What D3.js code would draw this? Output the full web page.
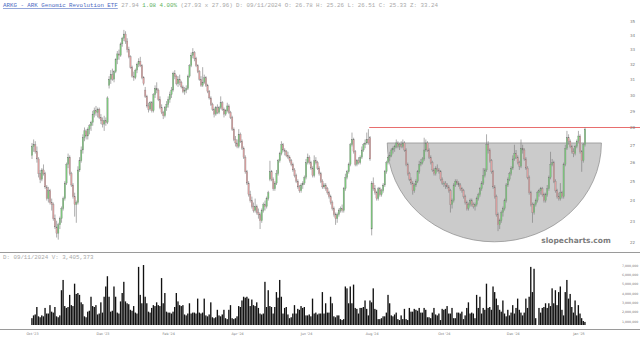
<!DOCTYPE html>
<html>
<head>
<meta charset="utf-8">
<script src="https://cdn.jsdelivr.net/npm/d3@7"></script>
<style>
  body { margin: 0; background: #fff; }
  svg { display: block; }
</style>
</head>
<body>
<svg id="chart" width="640" height="343"></svg>
<script>
// daily candles, [open, high, low, close]
const candles = [
  [26.4,27.1,26.2,26.9],[26.9,27.3,26.6,27.0],[27.0,27.2,26.5,26.6],[26.6,26.9,26.0,26.2],[26.2,26.3,25.2,25.4],
  [25.4,25.6,24.9,25.1],[25.1,25.7,25.0,25.6],[25.6,25.9,25.3,25.4],[25.4,25.5,24.6,24.7],[24.7,24.8,24.0,24.1],
  [24.1,24.7,23.9,24.5],[24.5,24.6,23.8,23.9],[23.9,24.1,23.5,23.8],[23.8,23.9,23.0,23.1],[23.1,23.3,22.6,22.7],
  [22.7,23.0,22.2,22.4],[22.4,22.9,22.1,22.8],[22.8,23.2,22.6,23.1],[23.1,23.7,22.9,23.6],[23.6,24.2,23.5,24.1],
  [24.1,25.0,24.0,24.9],[24.9,26.0,24.8,25.9],[25.9,26.5,25.7,26.3],[26.3,26.4,25.3,25.4],[25.4,25.5,24.7,24.8],
  [24.8,24.9,24.1,24.2],[24.2,24.4,23.2,23.8],[23.8,24.0,22.9,23.9],[23.9,25.8,23.8,25.6],[25.6,26.3,25.5,26.1],
  [26.1,26.9,26.0,26.7],[26.7,27.6,26.5,27.4],[27.4,28.0,27.2,27.8],[27.8,27.9,27.3,27.5],[27.5,28.0,27.3,27.9],
  [27.9,28.2,27.6,28.1],[28.1,28.4,27.8,28.3],[28.3,29.0,28.1,28.8],[28.8,29.2,28.6,29.0],[29.0,29.3,28.7,28.9],
  [28.9,29.2,28.6,29.1],[29.1,29.2,28.5,28.6],[28.6,28.8,28.2,28.4],[28.4,28.6,28.0,28.2],[28.2,28.7,27.8,28.4],
  [28.4,28.6,28.1,28.3],[28.3,29.9,28.2,29.8],[30.6,31.2,30.4,31.0],[31.0,31.6,30.7,31.3],[31.3,31.7,30.9,31.0],
  [31.0,31.6,30.8,31.5],[31.5,32.4,31.4,32.3],[32.3,32.9,32.0,32.7],[32.7,33.0,32.3,32.6],[32.6,33.5,32.5,33.4],
  [33.4,33.9,33.2,33.8],[33.8,34.4,33.6,34.1],[34.1,34.3,33.4,33.6],[33.6,33.8,32.8,33.0],[33.0,33.2,32.4,32.5],
  [32.5,32.6,31.7,31.8],[31.8,31.9,31.1,31.2],[31.2,31.5,30.9,31.1],[31.1,31.7,31.0,31.6],[31.6,32.1,31.4,32.0],
  [32.0,32.4,31.8,32.2],[32.2,32.5,31.8,31.9],[31.9,32.0,31.0,31.1],[31.1,31.2,30.6,30.7],[30.3,30.5,29.8,29.9],
  [29.9,30.0,29.2,29.3],[29.3,29.5,28.9,29.1],[29.1,29.6,29.0,29.5],[29.5,29.6,28.9,29.0],[29.0,30.1,28.9,30.0],
  [30.0,30.6,29.8,30.4],[30.4,30.8,30.1,30.3],[30.3,30.4,29.6,29.7],[29.7,29.9,29.1,29.2],[29.2,29.4,28.8,28.9],
  [28.9,29.0,28.5,28.7],[28.7,29.3,28.6,29.2],[29.2,29.6,29.0,29.4],[29.4,29.9,29.2,29.7],[29.7,30.2,29.5,30.0],
  [30.0,30.5,29.8,30.3],[30.3,31.5,30.2,31.4],[31.4,31.6,31.0,31.2],[31.2,31.3,30.6,30.7],[30.7,31.2,30.5,31.0],
  [31.0,31.3,30.6,30.8],[30.8,30.9,30.4,30.5],[30.5,30.6,30.1,30.2],[30.2,30.5,30.0,30.3],[30.3,30.6,30.1,30.4],
  [30.4,31.3,30.3,31.2],[31.2,32.0,31.1,31.9],[31.9,32.8,31.8,32.6],[32.6,33.1,32.4,32.8],[32.8,32.9,32.2,32.4],
  [32.4,32.5,31.8,31.9],[31.9,32.0,31.4,31.5],[31.5,31.6,30.9,31.0],[31.0,31.2,30.5,30.6],[30.6,31.8,30.5,30.8],
  [30.8,31.3,30.7,31.1],[31.1,31.2,30.5,30.6],[30.6,30.7,30.1,30.2],[30.2,30.3,29.7,29.8],[29.8,29.9,29.3,29.4],
  [29.4,29.5,29.0,29.1],[29.1,29.2,28.6,28.8],[28.8,29.3,28.7,29.2],[29.2,29.4,28.8,28.9],[28.9,29.3,28.8,29.2],
  [29.2,29.9,29.1,29.5],[29.5,29.6,29.0,29.1],[29.1,29.2,28.6,28.8],[28.8,29.1,28.7,29.0],[29.0,29.5,28.9,29.3],
  [29.3,29.4,28.8,28.9],[28.9,29.0,28.5,28.6],[28.6,28.7,27.8,27.9],[27.9,28.0,27.2,27.3],[27.3,27.5,26.9,27.1],
  [27.1,27.3,26.8,26.9],[26.9,27.9,26.8,27.6],[27.6,27.7,27.1,27.2],[27.2,27.3,26.7,26.8],[26.8,26.9,26.2,26.3],
  [26.3,26.4,25.4,25.5],[25.5,25.6,24.8,24.9],[24.9,25.0,24.2,24.3],[24.3,24.5,23.9,24.0],[24.0,24.2,23.6,23.7],
  [23.7,23.9,23.4,23.5],[23.5,24.1,23.4,23.7],[23.7,23.8,23.3,23.4],[23.4,23.6,23.1,23.3],[23.3,23.4,22.6,23.0],
  [23.0,23.6,22.9,23.5],[23.5,23.9,23.4,23.8],[23.8,24.0,23.5,23.7],[23.7,24.2,23.6,24.1],[24.1,24.5,24.0,24.4],
  [25.1,26.1,25.0,25.5],[25.5,25.6,25.0,25.1],[25.1,25.2,24.5,24.6],[24.6,25.0,24.5,24.9],[24.9,25.6,24.8,25.4],
  [25.4,26.2,25.3,26.1],[26.1,26.6,26.0,26.5],[26.5,27.2,26.4,27.0],[27.0,27.1,26.6,26.7],[26.7,26.8,26.4,26.6],
  [26.6,26.7,26.3,26.4],[26.4,26.6,26.2,26.3],[26.3,26.4,26.0,26.1],[26.1,26.2,25.8,25.9],[25.9,26.0,25.5,25.6],
  [25.6,25.7,25.2,25.3],[25.3,25.4,24.9,25.0],[25.0,25.1,24.6,24.7],[24.7,24.8,24.4,24.5],[24.5,24.9,24.4,24.8],
  [24.8,25.0,24.6,24.9],[24.9,25.3,24.8,25.2],[25.2,26.2,25.1,26.0],[26.0,26.5,25.9,26.3],[26.3,26.4,25.9,26.0],
  [26.0,26.1,25.6,25.7],[25.7,25.8,25.2,25.3],[25.3,26.4,25.2,26.1],[26.1,26.3,25.9,26.0],[26.0,26.1,25.6,25.7],
  [25.7,25.8,25.3,25.4],[25.4,25.5,24.9,25.0],[25.0,25.1,24.6,24.7],[24.7,24.9,24.6,24.8],[24.8,24.9,24.5,24.6],
  [24.6,24.7,24.3,24.4],[24.4,24.5,24.1,24.2],[24.2,24.3,23.8,23.9],[23.9,24.0,23.5,23.6],[23.6,23.7,23.2,23.3],
  [23.3,23.4,22.8,23.1],[23.1,23.4,22.9,23.3],[23.3,23.6,23.2,23.5],[23.5,23.7,23.4,23.6],[23.6,23.8,23.4,23.5],
  [23.5,24.7,23.4,24.6],[24.6,25.4,24.5,25.2],[25.2,25.6,25.1,25.5],[25.5,26.0,25.4,25.9],[25.9,27.1,25.8,27.0],
  [27.0,27.7,26.9,27.3],[27.3,27.4,26.5,26.6],[26.6,26.7,25.8,25.9],[25.9,26.2,25.8,26.1],[26.1,26.3,25.9,26.0],
  [26.0,26.4,25.9,26.3],[26.3,26.9,26.2,26.7],[26.7,27.1,26.6,27.0],[27.0,27.3,26.8,27.1],[27.1,27.7,27.0,27.3],
  [27.3,27.9,27.0,27.1],[27.4,27.5,26.1,26.2],[22.6,25.0,22.3,24.9],[24.9,25.2,24.5,24.6],[24.6,24.8,24.3,24.4],
  [24.4,24.5,24.0,24.1],[24.1,24.7,24.0,24.6],[24.6,24.7,24.2,24.3],[24.3,24.6,24.2,24.5],[24.5,24.9,24.4,24.8],
  [24.8,25.6,24.7,25.5],[25.5,26.1,25.4,26.0],[26.0,26.4,25.9,26.3],[26.3,26.6,26.1,26.4],[26.4,26.8,26.3,26.7],
  [26.7,26.9,26.5,26.8],[26.8,27.0,26.6,26.9],[26.9,27.3,26.8,27.1],[27.1,27.2,26.8,26.9],[26.9,27.1,26.7,27.0],
  [27.0,27.2,26.8,26.9],[26.9,27.3,26.8,27.1],[27.1,27.2,26.6,26.7],[26.7,26.8,25.8,25.9],[25.9,26.0,25.3,25.4],
  [25.4,25.5,25.0,25.1],[25.1,25.2,24.8,24.9],[24.9,25.0,24.3,24.5],[24.5,24.9,24.4,24.8],[24.8,25.1,24.7,25.0],
  [25.0,25.6,24.9,25.5],[25.5,26.1,25.4,25.9],[25.9,26.2,25.8,26.0],[26.0,26.3,25.9,26.2],[26.2,27.4,26.1,26.7],
  [26.7,27.3,26.6,27.1],[27.1,27.2,26.6,26.7],[26.7,26.8,26.2,26.3],[26.3,26.4,25.9,26.0],[26.0,26.1,25.5,25.6],
  [25.6,25.7,25.3,25.4],[25.4,25.8,25.3,25.7],[25.7,25.9,25.5,25.6],[25.6,25.7,25.4,25.5],[25.5,25.6,25.0,25.1],
  [25.1,25.2,24.8,24.9],[24.9,25.0,24.7,24.9],[24.9,25.0,24.6,24.8],[24.8,24.9,24.6,24.7],[24.7,24.8,24.4,24.5],
  [24.5,24.6,23.4,23.8],[23.8,24.1,23.6,24.0],[24.0,24.9,23.9,24.8],[24.8,25.1,24.7,25.0],[25.0,25.1,24.8,24.9],
  [24.9,25.0,24.7,24.8],[24.8,24.9,24.5,24.6],[24.6,24.7,24.4,24.5],[24.5,24.6,24.1,24.2],[24.2,24.3,23.8,23.9],
  [23.9,24.0,23.5,23.6],[23.6,23.9,23.5,23.8],[23.8,24.1,23.7,24.0],[24.0,24.1,23.7,23.8],[23.8,23.9,23.6,23.7],
  [23.7,23.9,23.5,23.8],[23.8,24.2,23.7,24.1],[24.1,24.4,24.0,24.3],[24.3,24.7,24.2,24.6],[24.6,25.0,24.5,24.9],
  [24.9,25.7,24.8,25.3],[25.3,25.7,25.2,25.6],[25.6,27.6,25.5,27.0],[27.0,27.2,26.5,26.7],[26.7,26.8,26.0,26.1],
  [26.1,26.2,25.4,25.5],[25.5,25.6,24.6,24.7],[24.7,24.8,24.1,24.2],[24.2,24.3,23.2,23.3],[23.3,23.4,22.5,22.8],
  [22.8,23.1,22.6,23.0],[23.0,23.5,22.9,23.4],[23.4,23.7,23.2,23.6],[23.6,24.1,23.5,24.0],[24.0,24.9,23.9,24.8],
  [24.8,25.2,24.7,25.1],[25.1,25.5,25.0,25.4],[25.4,25.8,25.3,25.7],[25.7,26.4,25.6,26.2],[26.2,27.0,26.1,26.5],
  [26.5,26.7,26.2,26.3],[26.3,26.4,25.9,26.0],[26.0,26.1,25.6,25.8],[25.8,27.3,25.7,26.8],[26.8,27.0,26.5,26.7],
  [26.7,26.8,26.1,26.2],[26.2,26.3,25.6,25.7],[25.7,25.8,25.1,25.2],[25.2,25.3,24.3,24.4],[24.4,24.5,23.7,23.8],
  [23.8,23.9,22.9,23.4],[23.4,23.9,23.3,23.8],[23.8,24.1,23.7,24.0],[24.0,24.5,23.9,24.4],[24.4,24.6,24.2,24.5],
  [24.5,24.7,24.3,24.6],[24.6,24.7,24.2,24.3],[24.3,24.4,23.9,24.0],[24.0,24.4,23.9,24.3],[24.3,24.8,24.2,24.6],
  [24.6,25.3,24.5,25.2],[25.2,26.6,25.1,25.9],[25.9,26.2,25.8,26.0],[26.0,26.1,24.9,25.0],[25.0,25.1,24.4,24.5],
  [24.5,24.6,24.1,24.2],[24.2,24.4,24.0,24.1],[24.1,24.9,24.0,24.4],[24.4,24.5,24.1,24.2],[24.2,26.0,24.1,25.9],
  [25.9,27.0,25.8,26.8],[26.8,27.8,26.7,27.4],[27.4,27.6,27.0,27.2],[27.2,27.3,26.8,26.9],[26.9,27.0,26.5,26.6],
  [26.6,26.8,26.3,26.5],[26.5,27.0,26.4,26.9],[26.9,27.3,26.8,27.2],[27.2,27.8,27.1,27.5],[27.5,27.6,26.5,26.6],
  [26.6,26.7,25.5,26.1],[26.1,27.1,26.0,27.0],[27.0,28.0,26.9,27.9]
];

// daily volume, millions of shares
const volumes = [
  1.3,1.6,1.7,2.5,1.5,1.4,1.6,1.5,2.4,1.8, 1.8,2.7,2.0,1.9,2.5,1.5,1.4,1.6,4.3,5.4,
  2.6,2.4,2.5,3.8,2.7,2.6,5.0,3.9,4.0,3.8, 3.0,2.8,1.5,1.4,2.0,2.1,3.6,2.6,2.5,2.7,
  1.7,1.8,3.0,1.9,3.6,4.7,5.8,3.6,2.0,2.1, 4.7,3.6,1.9,1.8,3.1,4.0,5.2,3.1,2.9,2.8,
  2.2,2.1,2.6,1.9,1.8,6.8,3.8,2.9,7.0,3.6, 2.9,2.0,1.9,2.4,2.7,2.6,3.0,2.7,2.6,5.6,
  2.9,4.0,2.0,1.9,1.9,1.8,2.0,2.5,4.0,3.1, 2.7,2.6,2.7,1.7,1.6,1.8,2.9,1.8,1.9,1.9,
  1.8,3.4,1.9,1.8,1.9,3.4,1.6,1.5,1.7,3.0, 1.4,1.3,1.4,2.2,1.6,1.5,1.7,2.2,1.3,1.2,
  2.2,2.7,1.3,1.2,1.3,1.5,2.6,2.5,3.2,3.6, 3.5,3.6,3.4,2.6,3.3,2.7,2.6,3.0,2.4,1.8,
  1.7,1.8,5.2,2.5,4.3,2.6,2.5,1.8,2.5,4.1, 3.5,5.4,3.6,1.8,2.4,2.5,1.7,1.3,1.4,1.8,
  2.7,1.8,2.3,2.2,2.6,2.4,2.5,1.6,1.6,1.7, 1.5,3.4,1.8,1.9,1.7,1.8,1.8,4.1,1.8,2.9,
  1.9,1.9,3.6,2.9,1.5,1.4,1.6,1.6,1.2,1.1, 1.2,4.7,4.5,2.9,4.7,2.9,4.9,2.4,2.3,1.8,
  2.4,2.4,2.5,3.2,2.3,1.6,3.2,3.0,4.5,2.3, 2.2,1.2,1.2,1.3,1.5,1.5,1.9,3.8,2.9,1.6,
  1.5,1.7,1.9,1.2,1.1,1.6,1.2,2.3,1.2,1.1, 2.4,2.0,2.0,2.3,2.2,2.1,2.4,1.9,1.9,2.4,
  2.2,1.4,1.4,1.3,1.9,2.4,1.7,1.6,1.8,1.1, 2.3,2.2,2.3,2.6,1.8,1.8,2.4,1.3,1.3,1.9,
  1.9,1.8,2.0,1.2,1.6,2.4,3.0,1.8,1.9,1.8, 1.3,3.8,2.4,3.6,1.8,2.4,2.2,5.0,2.4,2.5,
  2.2,4.7,4.1,3.4,2.7,2.2,2.0,3.2,1.8,1.5, 2.2,1.6,1.9,2.7,1.8,2.4,3.4,2.2,1.9,1.6,
  1.9,3.4,2.4,3.6,6.8,4.1,6.6,1.3,0,2.4, 1.9,2.4,2.5,2.9,2.4,2.9,2.6,4.5,2.9,4.3,
  2.7,4.1,4.7,2.2,1.6,4.1,5.4,3.4,3.9,2.5, 1.9,3.2,1.6,2.7,1.8,1.3,1.0,0.9
];

const priceTicks = [22, 23, 24, 25, 26, 27, 28, 29, 30, 31, 32, 33, 34, 35];
const volumeTicks = [1, 2, 3, 4, 5, 6, 7];
const monthTicks = [0, 43, 83, 125, 167, 207, 251, 293, 333];
const monthLabels = ["Oct '23", "Dec '23", "Feb '24", "Apr '24", "Jun '24", "Aug '24", "Oct '24", "Dec '24", "Jan '25"];

// drawn annotations, in bar index / price units
const resistanceLevel = 28;
const resistanceFrom = 205.5;
const cupFrom = 216.5, cupTo = 347, cupTop = 27.1, cupBottom = 22.0;

const W = 640, H = 343;
const svg = d3.select("#chart");

const x = d3.scaleLinear().domain([0, candles.length - 1]).range([32, 585]);
const y = d3.scaleLog().domain([22, 35]).range([241.8, 21.7]);
const yv = d3.scaleLinear().domain([0.57, 8.29]).range([325, 253]);

// header
const header = svg.append("text")
  .attr("x", 3).attr("y", 7)
  .style("font-family", "'Liberation Mono', 'DejaVu Sans Mono', monospace")
  .style("font-size", "5.8px")
  .style("fill", "#a8a8a8");
header.append("tspan").text("ARKG - ARK Genomic Revolution ETF")
  .style("fill", "#4a68bf").style("text-decoration", "underline");
header.append("tspan").text(" 27.94 ");
header.append("tspan").text("1.08 4.00%").style("fill", "#5cb05c");
header.append("tspan").text(" (27.93 x 27.96) D: 09/11/2024 O: 26.78 H: 25.26 L: 26.51 C: 25.33 Z: 33.24");

// cup
const xl = x(cupFrom), xr = x(cupTo), yt = y(cupTop);
const rx = (xr - xl) / 2, ry = y(cupBottom) - yt;
svg.append("path")
  .attr("d", `M${xl},${yt} A${rx},${ry} 0 0 0 ${xr},${yt} Z`)
  .style("fill", "#cbcbcb")
  .style("stroke", "#8a8a8a")
  .style("stroke-width", 0.7);

// resistance line, drawn as a 1px band
const ry28 = Math.round(y(resistanceLevel));
svg.append("rect")
  .attr("x", x(resistanceFrom)).attr("width", W - x(resistanceFrom))
  .attr("y", ry28).attr("height", 1)
  .attr("fill", "rgb(232,110,110)");

// candles
const candle = svg.append("g").selectAll("g")
  .data(candles)
  .join("g");

candle.append("line")
  .attr("x1", (d, i) => x(i)).attr("x2", (d, i) => x(i))
  .attr("y1", d => y(d[1])).attr("y2", d => y(d[2]))
  .style("stroke", "#777")
  .style("stroke-width", 0.6);

candle.append("rect")
  .attr("x", (d, i) => x(i) - 0.7)
  .attr("width", 1.4)
  .attr("y", d => y(Math.max(d[0], d[3])))
  .attr("height", d => Math.max(0.6, Math.abs(y(d[0]) - y(d[3]))))
  .style("fill", d => d[3] >= d[0] ? "#7cc87c" : "#dca0a0")
  .style("stroke", "#777")
  .style("stroke-width", 0.25);

// price axis
const yAxis = svg.append("g")
  .attr("transform", "translate(630,0)")
  .call(d3.axisRight(y).tickValues(priceTicks).tickSize(0).tickPadding(0).tickFormat(d3.format("d")));
yAxis.select(".domain").remove();
yAxis.selectAll("text")
  .style("font-family", "'DejaVu Sans', sans-serif")
  .style("font-size", "4px")
  .style("fill", "#777");

// watermark
svg.append("text")
  .attr("x", 576).attr("y", 243)
  .attr("text-anchor", "middle")
  .style("font-family", "'DejaVu Sans', sans-serif")
  .style("font-weight", "bold")
  .style("font-size", "7.5px")
  .style("fill", "#7c7c7c")
  .text("slopecharts.com");

// panel rules
svg.append("line").attr("x1", 0).attr("x2", W).attr("y1", 252.5).attr("y2", 252.5)
  .style("stroke", "#9a9a9a").style("stroke-width", 1.2);
svg.append("line").attr("x1", 0).attr("x2", W).attr("y1", 329.5).attr("y2", 329.5)
  .style("stroke", "#9a9a9a").style("stroke-width", 1.2);

svg.append("text")
  .attr("x", 3).attr("y", 259)
  .style("font-family", "'Liberation Mono', 'DejaVu Sans Mono', monospace")
  .style("font-size", "5.8px")
  .style("fill", "#a8a8a8")
  .text("D: 09/11/2024 V: 3,405,373");

// volume bars
svg.append("g").selectAll("rect")
  .data(volumes)
  .join("rect")
  .attr("x", (d, i) => x(i) - 0.75)
  .attr("width", 1.35)
  .attr("y", d => yv(Math.max(d, 0.57)))
  .attr("height", d => d > 0 ? yv(0.57) - yv(d) : 0)
  .style("fill", "#111");

const vAxis = svg.append("g")
  .attr("transform", "translate(622,0)")
  .call(d3.axisRight(yv).tickValues(volumeTicks).tickSize(0).tickPadding(0)
    .tickFormat(d => d3.format(",")(d * 1e6)));
vAxis.select(".domain").remove();
vAxis.selectAll("text")
  .style("font-family", "'DejaVu Sans', sans-serif")
  .style("font-size", "3.2px")
  .style("fill", "#777");

// month axis
const xAxis = svg.append("g")
  .attr("transform", "translate(0,333)")
  .call(d3.axisBottom(x).tickValues(monthTicks).tickSize(0).tickPadding(0)
    .tickFormat((d, i) => monthLabels[i]));
xAxis.select(".domain").remove();
xAxis.selectAll("text")
  .style("font-family", "'DejaVu Sans', sans-serif")
  .style("font-size", "3.4px")
  .style("fill", "#777");
</script>
</body>
</html>
